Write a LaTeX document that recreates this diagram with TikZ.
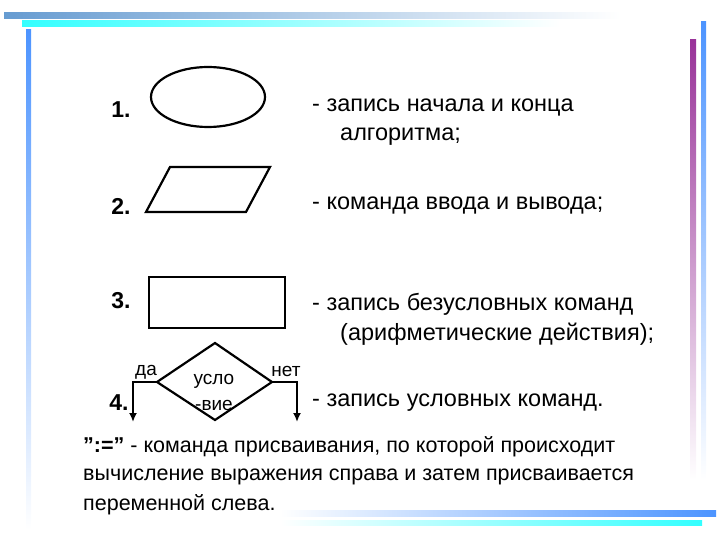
\documentclass[tikz,border=0pt]{standalone}
\usepackage{fontspec}
\defaultfontfeatures{}
\setmainfont{Liberation Sans}
\usetikzlibrary{arrows.meta}
\begin{document}
\begin{tikzpicture}[x=1pt,y=-1pt,
 shp/.style={draw,line width=2.2pt},
 arr/.style={line width=2.2pt,-{Latex[length=9pt,width=8pt]}},
 num/.style={font=\fontsize{23}{26}\selectfont\bfseries},
 txt/.style={font=\fontsize{23.5}{27}\selectfont,anchor=west,inner sep=0},
 btxt/.style={font=\fontsize{21.5}{25}\selectfont,anchor=west,inner sep=0},
 small/.style={font=\fontsize{19}{22}\selectfont,inner sep=0}]
\useasboundingbox (0,0) rectangle (720,540);
\shade[left color=blue!50!cyan!70!black!60, right color=white] (4,13) rectangle (620,19);
\shade[left color=cyan!80, right color=white] (22,21) rectangle (560,27);
\shade[top color=blue!60!cyan!70, bottom color=white] (26,30) rectangle (31,530);
\shade[top color=violet!80, bottom color=white] (690,40) rectangle (696,480);
\shade[top color=blue!60!cyan!70, bottom color=white] (701,22) rectangle (706,480);
\shade[left color=white, right color=blue!60!cyan!70] (280,510) rectangle (716,516);
\shade[left color=white, right color=cyan!80] (280,520) rectangle (702,525);
\node[num] (n1) at (121,110) {1.};
\node[num] (n2) at (121,206) {2.};
\node[num] (n3) at (121,301) {3.};
\node[num] (n4) at (119,403) {4.};
\draw[shp] (208,97) ellipse [x radius=57,y radius=30];
\draw[shp] (170,167) -- (270,167) -- (246,212) -- (146,212) -- cycle;
\draw[shp] (149,277) rectangle (285,328);
\draw[shp] (157,382) coordinate (dl) -- (215,343) -- (272,382) coordinate (dr) -- (215,420) -- cycle;
\coordinate (ya) at (133,422);
\coordinate (na) at (297,422);
\draw[arr] (dl) -| (ya);
\draw[arr] (dr) -| (na);
\node[small] (da) at (146,372) {да};
\node[small] (net) at (286,371) {нет};
\node[small] (u1) at (214,381) {усло};
\node[small] (u2) at (214,405) {-вие};
\node[txt] (t1) at (312,108) {- запись начала и конца};
\node[txt] (t1b) at (340,137) {алгоритма;};
\node[txt] (t2) at (312,206) {- команда ввода и вывода;};
\node[txt] (t3) at (312,304) {- запись безусловных команд};
\node[txt] (t3b) at (340,334) {(арифметические действия);};
\node[txt] (t4) at (312,403) {- запись условных команд.};
\node[btxt] (b1) at (83,447) {\textbf{":="} - команда присваивания, по которой происходит};
\node[btxt] (b2) at (83,477) {вычисление выражения справа и затем присваивается};
\node[btxt] (b3) at (83,505) {переменной слева.};
\end{tikzpicture}
\end{document}
